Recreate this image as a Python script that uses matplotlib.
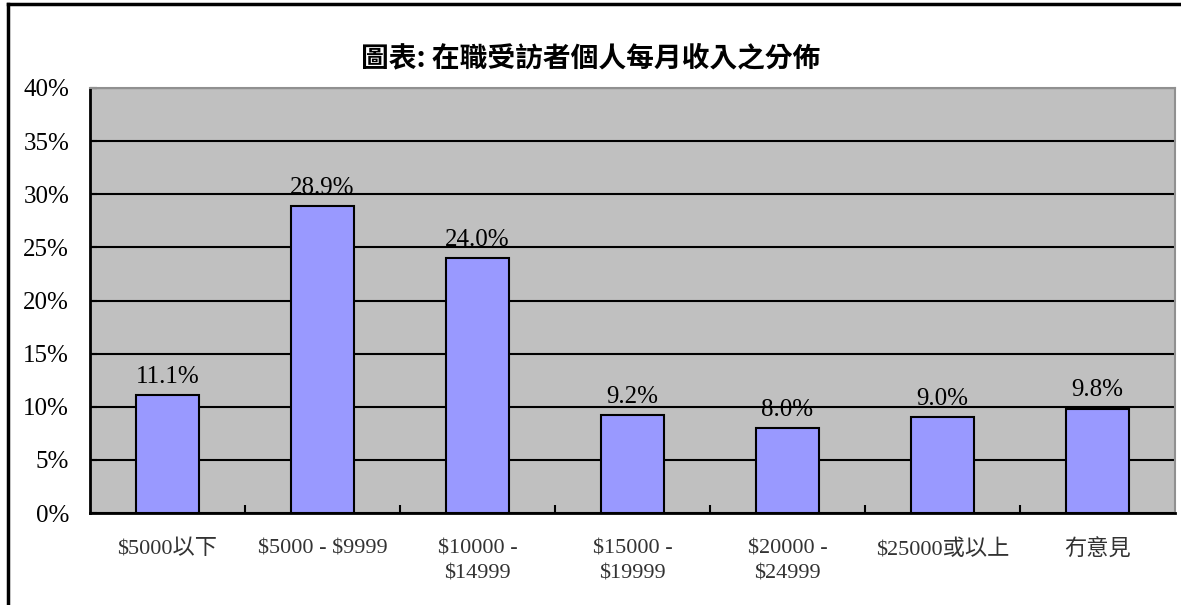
import matplotlib.pyplot as plt
from matplotlib.lines import Line2D

categories = ['\\$5000以下', '\\$5000 - \\$9999', '\\$10000 -\n\\$14999', '\\$15000 -\n\\$19999',
              '\\$20000 -\n\\$24999', '\\$25000或以上', '冇意見']
values = [11.1, 28.9, 24.0, 9.2, 8.0, 9.0, 9.8]
y_ticks = [0, 5, 10, 15, 20, 25, 30, 35, 40]

serif = ['Liberation Serif', 'Noto Sans CJK TC']
plt.rcParams['font.family'] = serif

fig = plt.figure(figsize=(11.81, 6.05), dpi=100)
ax = fig.add_axes([90 / 1181, 1 - 513 / 605, 1085 / 1181, 425 / 605])
ax.set_facecolor('#C0C0C0')

x = list(range(len(categories)))
ax.bar(x, values, width=0.41, color='#9999FF', edgecolor='black', linewidth=1.5, zorder=3)

for xi, v in zip(x, values):
    ax.text(xi, v + 0.7, f'{v:.1f}%', ha='center', va='bottom', fontsize=18,
            family=serif, zorder=4)

ax.set_xlim(-0.5, len(categories) - 0.5)
ax.set_ylim(0, 40)
ax.set_yticks(y_ticks)
ax.set_yticklabels([f'{t}%' for t in y_ticks], fontsize=18)
ax.yaxis.grid(True, color='black', linewidth=1.5, zorder=1)
ax.set_axisbelow(True)
ax.tick_params(axis='y', direction='in', length=5, width=1.5, pad=15)

ax.set_xticks(x)
ax.set_xticklabels(categories, fontsize=16, color='#333333', va='top', linespacing=1.45)
ax.tick_params(axis='x', length=0, pad=19)
ax.set_xticks([i + 0.5 for i in x[:-1]], minor=True)
ax.tick_params(axis='x', which='minor', direction='in', length=6, width=1.5)

for side in ['top', 'right']:
    ax.spines[side].set_color('#909090')
    ax.spines[side].set_linewidth(1.5)
for side in ['left', 'bottom']:
    ax.spines[side].set_color('black')
    ax.spines[side].set_linewidth(2)

fig.text(0.5, 1 - 58 / 605, '圖表: 在職受訪者個人每月收入之分佈', ha='center', va='center',
         fontsize=20, fontweight='semibold', family=['Noto Sans CJK TC', 'DejaVu Sans'])

# outer chart border (top and left visible in the source)
fig.add_artist(Line2D([8 / 1181, 1], [1 - 4 / 605, 1 - 4 / 605], color='black', linewidth=2.5,
                      transform=fig.transFigure))
fig.add_artist(Line2D([8 / 1181, 8 / 1181], [0, 1 - 4 / 605], color='black', linewidth=2.5,
                      transform=fig.transFigure))

fig.savefig('out.png', dpi=100)
